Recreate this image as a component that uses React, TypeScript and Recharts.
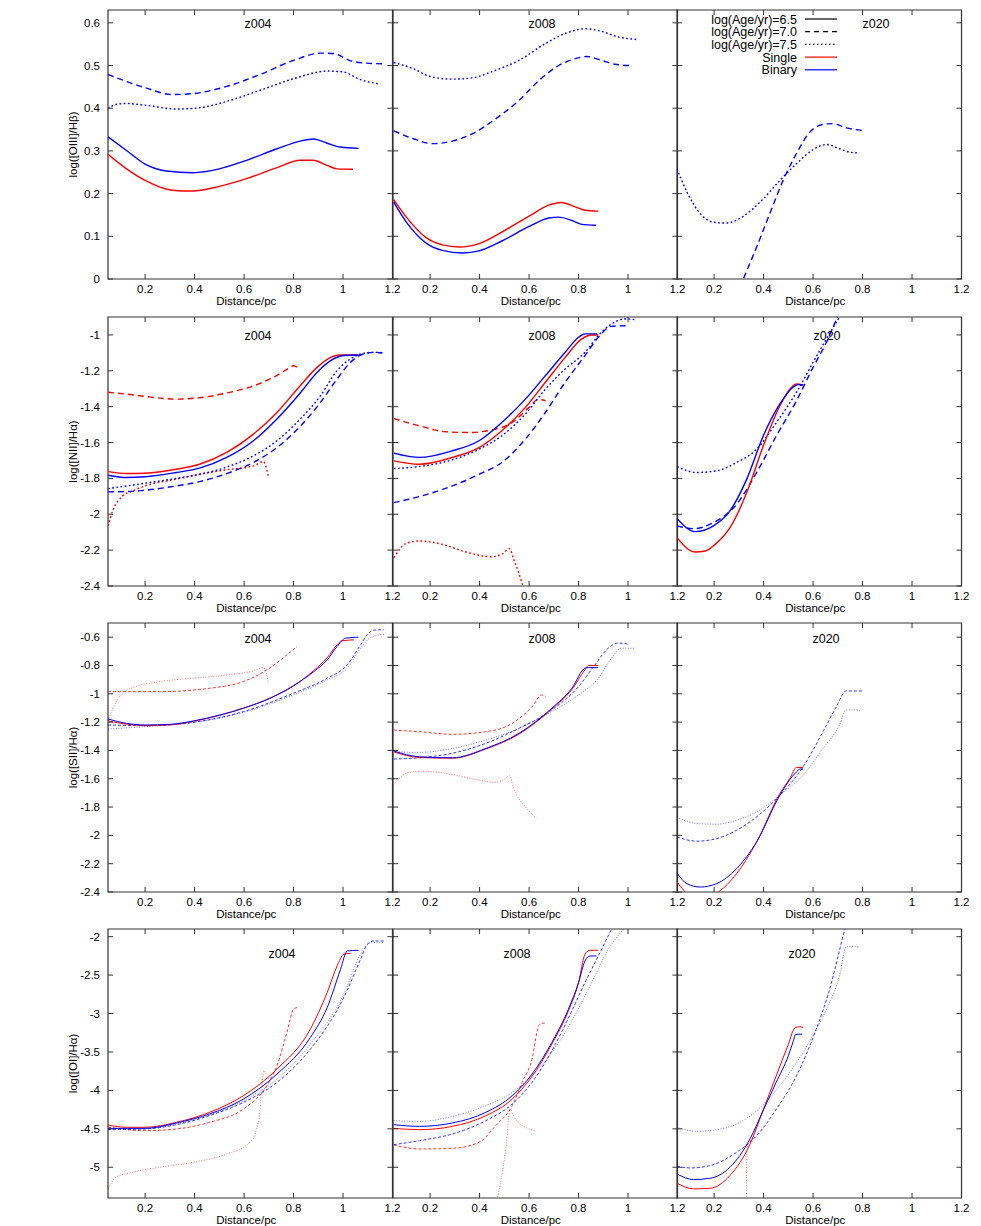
import React from 'react';
import { LineChart, Line, XAxis, YAxis, ReferenceArea } from 'recharts';

// ---- axes ----
const X_DOMAIN: [number, number] = [0.05, 1.2];
const X_TICKS = [0.2, 0.4, 0.6, 0.8, 1, 1.2];
const Y_DOMAINS: [number, number][] = [[0, 0.63], [-2.4, -0.9], [-2.4, -0.5], [-5.4, -1.9]];
const Y_TICKS = [
  [0, 0.1, 0.2, 0.3, 0.4, 0.5, 0.6],
  [-2.4, -2.2, -2, -1.8, -1.6, -1.4, -1.2, -1],
  [-2.4, -2.2, -2, -1.8, -1.6, -1.4, -1.2, -1, -0.8, -0.6],
  [-5, -4.5, -4, -3.5, -3, -2.5, -2],
];
const Y_LABELS = ['log([OIII]/Hβ)', 'log([NII]/Hα)', 'log([SII]/Hα)', 'log([OI]/Hα)'];
const METALLICITIES = ['z004', 'z008', 'z020'];
const AGES = ['6.5', '7.0', '7.5'];

// ---- [OIII]/Hb ----
const oiii_z004_s65 = [[0.05,0.292],[0.125,0.258],[0.2,0.231],[0.31,0.208],[0.39,0.206],[0.5,0.217],[0.61,0.235],[0.733,0.261],[0.827,0.278],[0.88,0.278],[0.936,0.266],[0.976,0.258],[1.04,0.257]];
const oiii_z004_b65 = [[0.05,0.333],[0.125,0.301],[0.2,0.269],[0.285,0.253],[0.394,0.249],[0.5,0.258],[0.61,0.278],[0.733,0.305],[0.827,0.323],[0.88,0.328],[0.936,0.318],[0.99,0.309],[1.062,0.306]];
const oiii_z004_b70 = [[0.05,0.479],[0.2,0.448],[0.31,0.432],[0.39,0.434],[0.53,0.451],[0.665,0.479],[0.8,0.512],[0.91,0.529],[0.963,0.528],[1.03,0.511],[1.085,0.506],[1.166,0.504]];
const oiii_z004_b75 = [[0.05,0.399],[0.082,0.409],[0.123,0.411],[0.2,0.407],[0.326,0.398],[0.42,0.401],[0.53,0.416],[0.665,0.442],[0.8,0.469],[0.936,0.487],[1.0,0.485],[1.07,0.467],[1.146,0.457]];
const oiii_z008_s65 = [[0.053,0.186],[0.104,0.145],[0.184,0.097],[0.25,0.08],[0.318,0.075],[0.398,0.083],[0.49,0.11],[0.6,0.147],[0.68,0.173],[0.73,0.179],[0.786,0.169],[0.826,0.161],[0.88,0.159]];
const oiii_z008_b65 = [[0.053,0.18],[0.104,0.133],[0.184,0.084],[0.25,0.067],[0.331,0.061],[0.398,0.066],[0.49,0.089],[0.6,0.123],[0.68,0.143],[0.72,0.145],[0.773,0.137],[0.813,0.128],[0.87,0.126]];
const oiii_z008_b70 = [[0.053,0.347],[0.13,0.329],[0.21,0.317],[0.29,0.323],[0.37,0.34],[0.465,0.375],[0.559,0.418],[0.64,0.465],[0.72,0.5],[0.786,0.516],[0.833,0.521],[0.893,0.512],[0.946,0.503],[1.004,0.5]];
const oiii_z008_b75 = [[0.053,0.507],[0.13,0.493],[0.197,0.475],[0.29,0.468],[0.37,0.471],[0.465,0.489],[0.559,0.512],[0.665,0.551],[0.746,0.575],[0.826,0.586],[0.88,0.582],[0.96,0.567],[1.033,0.561]];
const oiii_z020_b70 = [[0.304,-0.02],[0.318,0.0],[0.372,0.075],[0.425,0.153],[0.479,0.231],[0.533,0.294],[0.587,0.344],[0.64,0.362],[0.68,0.364],[0.734,0.354],[0.799,0.348]];
const oiii_z020_b75 = [[0.05,0.258],[0.09,0.204],[0.144,0.153],[0.197,0.133],[0.25,0.131],[0.318,0.147],[0.399,0.188],[0.466,0.231],[0.533,0.27],[0.6,0.303],[0.654,0.315],[0.707,0.305],[0.748,0.297],[0.788,0.295]];

// ---- [NII]/Ha ----
const nii_z004_s65 = [[0.05,-1.762],[0.125,-1.773],[0.2,-1.771],[0.326,-1.749],[0.42,-1.721],[0.53,-1.655],[0.638,-1.553],[0.733,-1.432],[0.827,-1.283],[0.895,-1.181],[0.95,-1.125],[0.99,-1.112],[1.062,-1.112]];
const nii_z004_b65 = [[0.05,-1.782],[0.125,-1.795],[0.2,-1.791],[0.326,-1.767],[0.42,-1.743],[0.53,-1.683],[0.638,-1.59],[0.733,-1.469],[0.827,-1.324],[0.895,-1.209],[0.95,-1.143],[1.003,-1.115],[1.062,-1.112]];
const nii_z004_s70 = [[0.05,-1.32],[0.125,-1.33],[0.2,-1.343],[0.326,-1.358],[0.42,-1.35],[0.53,-1.324],[0.665,-1.27],[0.72,-1.235],[0.77,-1.195],[0.8,-1.172],[0.814,-1.18]];
const nii_z004_b70 = [[0.05,-1.875],[0.125,-1.873],[0.2,-1.866],[0.326,-1.842],[0.42,-1.818],[0.53,-1.773],[0.638,-1.711],[0.733,-1.628],[0.827,-1.51],[0.909,-1.376],[0.976,-1.246],[1.03,-1.153],[1.071,-1.112],[1.125,-1.097],[1.16,-1.1]];
const nii_z004_b75 = [[0.05,-1.857],[0.125,-1.842],[0.2,-1.827],[0.326,-1.8],[0.42,-1.777],[0.53,-1.737],[0.638,-1.674],[0.733,-1.59],[0.827,-1.469],[0.909,-1.339],[0.976,-1.199],[1.03,-1.134],[1.071,-1.106],[1.125,-1.097],[1.166,-1.1]];
const nii_z004_s75 = [[0.05,-2.065],[0.069,-1.981],[0.109,-1.898],[0.15,-1.87],[0.2,-1.842],[0.326,-1.804],[0.42,-1.777],[0.53,-1.752],[0.638,-1.73],[0.678,-1.706],[0.699,-1.795]];
const nii_z008_s65 = [[0.053,-1.702],[0.157,-1.721],[0.29,-1.683],[0.398,-1.628],[0.49,-1.534],[0.585,-1.404],[0.666,-1.264],[0.746,-1.125],[0.813,-1.022],[0.853,-1.0],[0.88,-1.0]];
const nii_z008_b65 = [[0.053,-1.659],[0.157,-1.683],[0.29,-1.646],[0.398,-1.59],[0.49,-1.488],[0.585,-1.358],[0.666,-1.227],[0.746,-1.097],[0.8,-1.013],[0.826,-0.994],[0.875,-0.994]];
const nii_z008_s70 = [[0.053,-1.466],[0.157,-1.507],[0.264,-1.54],[0.358,-1.544],[0.451,-1.529],[0.532,-1.488],[0.6,-1.404],[0.639,-1.358],[0.666,-1.367]];
const nii_z008_b70 = [[0.053,-1.935],[0.157,-1.901],[0.29,-1.842],[0.398,-1.777],[0.49,-1.711],[0.585,-1.581],[0.666,-1.432],[0.746,-1.264],[0.826,-1.115],[0.88,-1.013],[0.933,-0.952],[1.004,-0.948]];
const nii_z008_b75 = [[0.053,-1.745],[0.157,-1.734],[0.29,-1.696],[0.398,-1.637],[0.49,-1.562],[0.585,-1.441],[0.666,-1.302],[0.746,-1.19],[0.826,-1.097],[0.88,-1.004],[0.933,-0.939],[0.987,-0.911],[1.027,-0.914]];
const nii_z008_s75 = [[0.053,-2.242],[0.104,-2.162],[0.157,-2.149],[0.25,-2.168],[0.344,-2.21],[0.45,-2.237],[0.49,-2.223],[0.521,-2.192],[0.538,-2.251],[0.558,-2.326],[0.575,-2.4],[0.59,-2.46]];
const nii_z020_s65 = [[0.05,-2.13],[0.123,-2.21],[0.164,-2.205],[0.204,-2.168],[0.264,-2.075],[0.332,-1.879],[0.399,-1.618],[0.466,-1.395],[0.513,-1.292],[0.533,-1.274],[0.56,-1.279]];
const nii_z020_b65 = [[0.05,-2.024],[0.123,-2.097],[0.197,-2.065],[0.264,-1.981],[0.332,-1.804],[0.399,-1.562],[0.466,-1.385],[0.519,-1.292],[0.54,-1.277],[0.56,-1.279]];
const nii_z020_b70 = [[0.05,-2.065],[0.117,-2.08],[0.197,-2.047],[0.291,-1.944],[0.372,-1.767],[0.452,-1.562],[0.533,-1.367],[0.6,-1.181],[0.654,-1.041],[0.7,-0.9],[0.72,-0.85]];
const nii_z020_b75 = [[0.05,-1.734],[0.13,-1.767],[0.21,-1.758],[0.291,-1.711],[0.372,-1.637],[0.452,-1.488],[0.533,-1.32],[0.6,-1.153],[0.654,-1.022],[0.707,-0.9],[0.73,-0.85]];

// ---- [SII]/Ha ----
const sii_z004_s65 = [[0.05,-1.192],[0.2,-1.225],[0.299,-1.22],[0.394,-1.195],[0.502,-1.152],[0.597,-1.102],[0.705,-1.03],[0.8,-0.945],[0.882,-0.835],[0.936,-0.745],[0.976,-0.654],[0.995,-0.626],[1.044,-0.619]];
const sii_z004_b65 = [[0.05,-1.178],[0.125,-1.209],[0.2,-1.22],[0.299,-1.216],[0.394,-1.192],[0.502,-1.15],[0.597,-1.102],[0.705,-1.032],[0.8,-0.942],[0.882,-0.843],[0.936,-0.76],[0.976,-0.666],[1.01,-0.607],[1.062,-0.6]];
const sii_z004_b70 = [[0.05,-1.22],[0.2,-1.225],[0.394,-1.202],[0.597,-1.126],[0.8,-0.996],[0.936,-0.89],[1.017,-0.796],[1.071,-0.654],[1.098,-0.583],[1.125,-0.55],[1.166,-0.548]];
const sii_z004_b75 = [[0.05,-1.249],[0.2,-1.232],[0.394,-1.202],[0.597,-1.131],[0.8,-1.008],[0.936,-0.902],[1.017,-0.819],[1.071,-0.678],[1.112,-0.602],[1.166,-0.579]];
const sii_z004_s70 = [[0.05,-0.985],[0.258,-0.985],[0.461,-0.961],[0.597,-0.914],[0.692,-0.831],[0.773,-0.725],[0.814,-0.666]];
const sii_z004_s75 = [[0.05,-1.192],[0.07,-1.102],[0.109,-0.996],[0.163,-0.949],[0.258,-0.914],[0.394,-0.89],[0.53,-0.867],[0.638,-0.838],[0.678,-0.815],[0.699,-0.926]];
const sii_z008_s65 = [[0.053,-1.41],[0.157,-1.45],[0.29,-1.455],[0.425,-1.39],[0.559,-1.285],[0.692,-1.108],[0.773,-0.97],[0.826,-0.83],[0.84,-0.8],[0.88,-0.8]];
const sii_z008_b65 = [[0.053,-1.404],[0.157,-1.445],[0.29,-1.452],[0.425,-1.386],[0.559,-1.279],[0.692,-1.102],[0.773,-0.961],[0.826,-0.819],[0.84,-0.815],[0.88,-0.815]];
const sii_z008_s70 = [[0.053,-1.256],[0.157,-1.268],[0.29,-1.286],[0.425,-1.268],[0.532,-1.209],[0.612,-1.091],[0.652,-1.008],[0.666,-1.02]];
const sii_z008_b70 = [[0.053,-1.461],[0.157,-1.452],[0.29,-1.42],[0.425,-1.35],[0.559,-1.244],[0.692,-1.114],[0.8,-0.949],[0.866,-0.796],[0.92,-0.678],[0.96,-0.642],[1.004,-0.65]];
const sii_z008_b75 = [[0.053,-1.409],[0.157,-1.414],[0.29,-1.386],[0.425,-1.327],[0.559,-1.244],[0.692,-1.126],[0.8,-1.008],[0.88,-0.89],[0.933,-0.749],[0.973,-0.678],[1.027,-0.678]];
const sii_z008_s75 = [[0.053,-1.64],[0.104,-1.562],[0.157,-1.546],[0.29,-1.57],[0.398,-1.61],[0.465,-1.626],[0.505,-1.598],[0.521,-1.579],[0.538,-1.669],[0.585,-1.798],[0.63,-1.881]];
const sii_z020_s65 = [[0.05,-2.329],[0.077,-2.388],[0.1,-2.43],[0.16,-2.44],[0.217,-2.4],[0.291,-2.27],[0.372,-2.046],[0.466,-1.704],[0.506,-1.598],[0.533,-1.52],[0.56,-1.52]];
const sii_z020_b65 = [[0.05,-2.266],[0.09,-2.341],[0.144,-2.365],[0.21,-2.341],[0.291,-2.235],[0.372,-2.046],[0.466,-1.716],[0.533,-1.551],[0.546,-1.532],[0.56,-1.532]];
const sii_z020_b70 = [[0.05,-2.011],[0.13,-2.041],[0.21,-2.023],[0.291,-1.964],[0.372,-1.869],[0.466,-1.716],[0.56,-1.515],[0.64,-1.268],[0.694,-1.091],[0.734,-0.98],[0.8,-0.98]];
const sii_z020_b75 = [[0.05,-1.874],[0.13,-1.916],[0.21,-1.921],[0.291,-1.893],[0.372,-1.834],[0.466,-1.716],[0.56,-1.574],[0.64,-1.386],[0.707,-1.22],[0.734,-1.114],[0.774,-1.114],[0.79,-1.12]];

// ---- [OI]/Ha ----
const oi_z004_s65 = [[0.05,-4.45],[0.125,-4.48],[0.2,-4.48],[0.326,-4.416],[0.46,-4.286],[0.597,-4.069],[0.733,-3.723],[0.868,-3.203],[0.936,-2.727],[0.976,-2.381],[1.003,-2.229],[1.03,-2.216]];
const oi_z004_b65 = [[0.05,-4.494],[0.2,-4.494],[0.326,-4.424],[0.46,-4.307],[0.597,-4.113],[0.733,-3.788],[0.868,-3.312],[0.936,-2.922],[0.99,-2.424],[1.017,-2.186],[1.062,-2.177]];
const oi_z004_b70 = [[0.05,-4.511],[0.2,-4.502],[0.326,-4.446],[0.46,-4.329],[0.597,-4.156],[0.733,-3.896],[0.868,-3.463],[1.003,-2.792],[1.071,-2.294],[1.098,-2.1],[1.125,-2.056],[1.166,-2.056]];
const oi_z004_b75 = [[0.05,-4.494],[0.2,-4.49],[0.326,-4.435],[0.46,-4.32],[0.597,-4.134],[0.733,-3.853],[0.868,-3.398],[1.003,-2.749],[1.071,-2.229],[1.112,-2.078],[1.166,-2.078]];
const oi_z004_s70 = [[0.05,-4.48],[0.2,-4.524],[0.326,-4.502],[0.46,-4.416],[0.597,-4.242],[0.692,-3.939],[0.733,-3.68],[0.773,-3.247],[0.8,-2.944],[0.814,-2.922]];
const oi_z004_s75 = [[0.05,-5.281],[0.082,-5.13],[0.15,-5.065],[0.258,-5.0],[0.394,-4.935],[0.53,-4.827],[0.624,-4.675],[0.651,-4.502],[0.665,-4.242],[0.672,-3.939],[0.681,-3.745],[0.699,-3.853]];
const oi_z008_s65 = [[0.053,-4.494],[0.157,-4.511],[0.29,-4.468],[0.425,-4.329],[0.532,-4.113],[0.612,-3.818],[0.692,-3.398],[0.759,-2.965],[0.8,-2.597],[0.826,-2.229],[0.846,-2.177],[0.88,-2.177]];
const oi_z008_b65 = [[0.053,-4.446],[0.157,-4.468],[0.29,-4.424],[0.425,-4.286],[0.532,-4.069],[0.612,-3.788],[0.692,-3.377],[0.759,-2.944],[0.8,-2.597],[0.826,-2.316],[0.846,-2.251],[0.873,-2.251]];
const oi_z008_b70 = [[0.053,-4.706],[0.157,-4.654],[0.29,-4.567],[0.425,-4.394],[0.532,-4.177],[0.612,-3.896],[0.692,-3.485],[0.773,-2.965],[0.826,-2.597],[0.88,-2.251],[0.933,-1.905],[0.95,-1.8]];
const oi_z008_b75 = [[0.053,-4.394],[0.157,-4.403],[0.29,-4.338],[0.425,-4.199],[0.532,-4.026],[0.612,-3.81],[0.692,-3.506],[0.773,-3.095],[0.853,-2.597],[0.92,-2.165],[0.98,-1.905],[1.0,-1.82]];
const oi_z008_s70 = [[0.053,-4.71],[0.157,-4.762],[0.29,-4.753],[0.398,-4.675],[0.465,-4.459],[0.532,-4.199],[0.572,-3.896],[0.612,-3.593],[0.639,-3.16],[0.652,-3.126],[0.663,-3.126]];
const oi_z008_s75 = [[0.468,-5.45],[0.472,-5.4],[0.492,-5.065],[0.512,-4.589],[0.521,-4.242],[0.545,-4.372],[0.585,-4.48],[0.625,-4.524]];
const oi_z020_s65 = [[0.05,-5.208],[0.117,-5.281],[0.184,-5.273],[0.264,-5.108],[0.345,-4.7],[0.4,-4.24],[0.45,-3.82],[0.5,-3.4],[0.528,-3.18],[0.546,-3.173],[0.56,-3.18]];
const oi_z020_b65 = [[0.05,-5.087],[0.117,-5.16],[0.184,-5.143],[0.264,-5.0],[0.345,-4.632],[0.4,-4.25],[0.45,-3.9],[0.5,-3.55],[0.52,-3.36],[0.53,-3.27],[0.556,-3.268]];
const oi_z020_b70 = [[0.05,-4.987],[0.104,-5.009],[0.184,-4.978],[0.291,-4.805],[0.372,-4.589],[0.452,-4.242],[0.533,-3.81],[0.573,-3.528],[0.613,-3.203],[0.667,-2.684],[0.728,-1.905],[0.735,-1.82]];
const oi_z020_b75 = [[0.05,-4.481],[0.13,-4.532],[0.21,-4.511],[0.291,-4.437],[0.372,-4.264],[0.425,-4.091],[0.506,-3.766],[0.587,-3.355],[0.654,-2.944],[0.707,-2.511],[0.734,-2.13],[0.79,-2.13]];
const oi_z020_s75 = [[0.331,-5.45],[0.332,-4.805],[0.342,-4.654],[0.365,-4.684]];

type Curve = { pop: 'single' | 'binary'; age: string; pts: number[][] };
const c = (pop: 'single' | 'binary', age: string, pts: number[][]): Curve => ({ pop, age, pts });

const PANELS: Curve[][][] = [
  [
    [c('binary', '7.0', oiii_z004_b70), c('binary', '7.5', oiii_z004_b75), c('single', '6.5', oiii_z004_s65), c('binary', '6.5', oiii_z004_b65)],
    [c('binary', '7.0', oiii_z008_b70), c('binary', '7.5', oiii_z008_b75), c('single', '6.5', oiii_z008_s65), c('binary', '6.5', oiii_z008_b65)],
    [c('binary', '7.0', oiii_z020_b70), c('binary', '7.5', oiii_z020_b75)],
  ],
  [
    [c('single', '7.0', nii_z004_s70), c('single', '7.5', nii_z004_s75), c('binary', '7.0', nii_z004_b70), c('binary', '7.5', nii_z004_b75), c('single', '6.5', nii_z004_s65), c('binary', '6.5', nii_z004_b65)],
    [c('single', '7.0', nii_z008_s70), c('single', '7.5', nii_z008_s75), c('binary', '7.0', nii_z008_b70), c('binary', '7.5', nii_z008_b75), c('single', '6.5', nii_z008_s65), c('binary', '6.5', nii_z008_b65)],
    [c('binary', '7.0', nii_z020_b70), c('binary', '7.5', nii_z020_b75), c('single', '6.5', nii_z020_s65), c('binary', '6.5', nii_z020_b65)],
  ],
  [
    [c('single', '7.0', sii_z004_s70), c('single', '7.5', sii_z004_s75), c('binary', '7.0', sii_z004_b70), c('binary', '7.5', sii_z004_b75), c('single', '6.5', sii_z004_s65), c('binary', '6.5', sii_z004_b65)],
    [c('single', '7.0', sii_z008_s70), c('single', '7.5', sii_z008_s75), c('binary', '7.0', sii_z008_b70), c('binary', '7.5', sii_z008_b75), c('single', '6.5', sii_z008_s65), c('binary', '6.5', sii_z008_b65)],
    [c('binary', '7.0', sii_z020_b70), c('binary', '7.5', sii_z020_b75), c('single', '6.5', sii_z020_s65), c('binary', '6.5', sii_z020_b65)],
  ],
  [
    [c('single', '7.0', oi_z004_s70), c('single', '7.5', oi_z004_s75), c('binary', '7.0', oi_z004_b70), c('binary', '7.5', oi_z004_b75), c('single', '6.5', oi_z004_s65), c('binary', '6.5', oi_z004_b65)],
    [c('single', '7.0', oi_z008_s70), c('single', '7.5', oi_z008_s75), c('binary', '7.0', oi_z008_b70), c('binary', '7.5', oi_z008_b75), c('single', '6.5', oi_z008_s65), c('binary', '6.5', oi_z008_b65)],
    [c('single', '7.5', oi_z020_s75), c('binary', '7.0', oi_z020_b70), c('binary', '7.5', oi_z020_b75), c('single', '6.5', oi_z020_s65), c('binary', '6.5', oi_z020_b65)],
  ],
];

// ---- layout ----
const COL_LEFT = [108, 392.5, 677];
const ROW_TOP = [10, 317, 623, 929];
const PLOT_W = 284.5;
const PLOT_H = 269;
const TITLE_OFF = [
  [[150, 13], [149.5, 13], [199, 13]],
  [[150, 18], [149.5, 18], [150, 18]],
  [[150, 15], [149.5, 15], [149, 15]],
  [[174, 24], [124.5, 24], [125, 24]],
];
const FONT = '"Liberation Sans", Arial, Helvetica, sans-serif';
const COLORS = { single: '#ff0000', binary: '#0000ff' };

function dashFor(age: string, row: number) {
  const thin = row >= 2;
  if (age === '7.0') return thin ? '3 2' : '6 4';
  if (age === '7.5') return thin ? '1 1.6' : '1.8 2.4';
  return undefined;
}

function Panel({ row, col }: { row: number; col: number }) {
  const ml = col === 0 ? 100 : 10;
  const mr = 10;
  const mt = 5;
  const xh = 36;
  const [y0, y1] = Y_DOMAINS[row];
  const thin = row >= 2;

  const XTick = (p: any) => (
    <g>
      <line x1={p.x} x2={p.x} y1={p.y} y2={p.y - 5} stroke="#333" />
      <line x1={p.x} x2={p.x} y1={p.y - PLOT_H} y2={p.y - PLOT_H + 5} stroke="#333" />
      <text x={p.x} y={p.y + 13.5} textAnchor="middle" fontSize={11.5} fontFamily={FONT} fill="#000">
        {String(p.payload.value)}
      </text>
    </g>
  );
  const YTick = (p: any) => (
    <g>
      <line x1={p.x} x2={p.x + 5} y1={p.y} y2={p.y} stroke="#333" />
      <line x1={p.x + PLOT_W - 5} x2={p.x + PLOT_W} y1={p.y} y2={p.y} stroke="#333" />
      {col === 0 && (
        <text x={p.x - 8} y={p.y + 4} textAnchor="end" fontSize={11.5} fontFamily={FONT} fill="#000">
          {String(p.payload.value)}
        </text>
      )}
    </g>
  );

  return (
    <div style={{ position: 'absolute', left: COL_LEFT[col] - ml, top: ROW_TOP[row] - mt }}>
      <LineChart width={PLOT_W + ml + mr} height={PLOT_H + mt + xh} margin={{ top: mt, right: mr, bottom: 0, left: 0 }}>
        <XAxis
          type="number"
          dataKey="x"
          domain={X_DOMAIN}
          ticks={X_TICKS}
          interval={0}
          allowDataOverflow
          height={xh}
          axisLine={false}
          tickLine={false}
          tickSize={0}
          tickMargin={0}
          tick={XTick}
        />
        <YAxis
          type="number"
          dataKey="y"
          domain={Y_DOMAINS[row]}
          ticks={Y_TICKS[row]}
          interval={0}
          allowDataOverflow
          width={ml}
          axisLine={false}
          tickLine={false}
          tickSize={0}
          tickMargin={0}
          tick={YTick}
        />
        <ReferenceArea x1={X_DOMAIN[0]} x2={X_DOMAIN[1]} y1={y0} y2={y1} fill="none" stroke="#333" strokeWidth={1.2} />
        {PANELS[row][col].map((cv, i) => (
          <Line
            key={i}
            data={cv.pts.map(([x, y]) => ({ x, y }))}
            dataKey="y"
            type="monotone"
            stroke={COLORS[cv.pop]}
            strokeWidth={thin ? 1 : 1.4}
            strokeOpacity={thin && cv.age === '7.5' ? 0.55 : thin && cv.age === '7.0' ? 0.8 : 1}
            strokeDasharray={dashFor(cv.age, row)}
            dot={false}
            activeDot={false}
            isAnimationActive={false}
          />
        ))}
      </LineChart>
    </div>
  );
}

function Overlay() {
  const legendRows = [
    { label: `log(Age/yr)=${AGES[0]}`, color: '#000', dash: undefined },
    { label: `log(Age/yr)=${AGES[1]}`, color: '#000', dash: '5 4' },
    { label: `log(Age/yr)=${AGES[2]}`, color: '#000', dash: '1.5 2.5' },
    { label: 'Single', color: COLORS.single, dash: undefined },
    { label: 'Binary', color: COLORS.binary, dash: undefined },
  ];
  return (
    <svg width={981} height={1226} style={{ position: 'absolute', left: 0, top: 0, pointerEvents: 'none' }}>
      {ROW_TOP.map((top, r) => (
        <g key={r}>
          <text
            transform={`translate(73 ${top + PLOT_H / 2}) rotate(-90)`}
            textAnchor="middle"
            dominantBaseline="central"
            fontSize={11.5}
            fontFamily={FONT}
            fill="#000"
          >
            {Y_LABELS[r]}
          </text>
          {COL_LEFT.map((left, ci) => (
            <g key={ci}>
              <text x={left + PLOT_W / 2 - 4} y={top + PLOT_H + 25.5} textAnchor="middle" fontSize={11.5} fontFamily={FONT} fill="#000">
                Distance/pc
              </text>
              <text
                x={left + TITLE_OFF[r][ci][0]}
                y={top + TITLE_OFF[r][ci][1] + 4.5}
                textAnchor="middle"
                fontSize={12.5}
                fontFamily={FONT}
                fill="#000"
              >
                {METALLICITIES[ci]}
              </text>
            </g>
          ))}
        </g>
      ))}
      {legendRows.map((lr, i) => {
        const y = 19 + i * 12.7;
        return (
          <g key={i}>
            <text x={797} y={y + 4.5} textAnchor="end" fontSize={12.5} fontFamily={FONT} fill="#000">
              {lr.label}
            </text>
            <line x1={805} x2={837} y1={y} y2={y} stroke={lr.color} strokeWidth={1.2} strokeDasharray={lr.dash} />
          </g>
        );
      })}
    </svg>
  );
}

export default function App() {
  return (
    <div style={{ position: 'absolute', left: 0, top: 0, width: 981, height: 1226, background: '#fff' }}>
      {ROW_TOP.map((_, r) => COL_LEFT.map((__, ci) => <Panel key={`${r}-${ci}`} row={r} col={ci} />))}
      <Overlay />
    </div>
  );
}
